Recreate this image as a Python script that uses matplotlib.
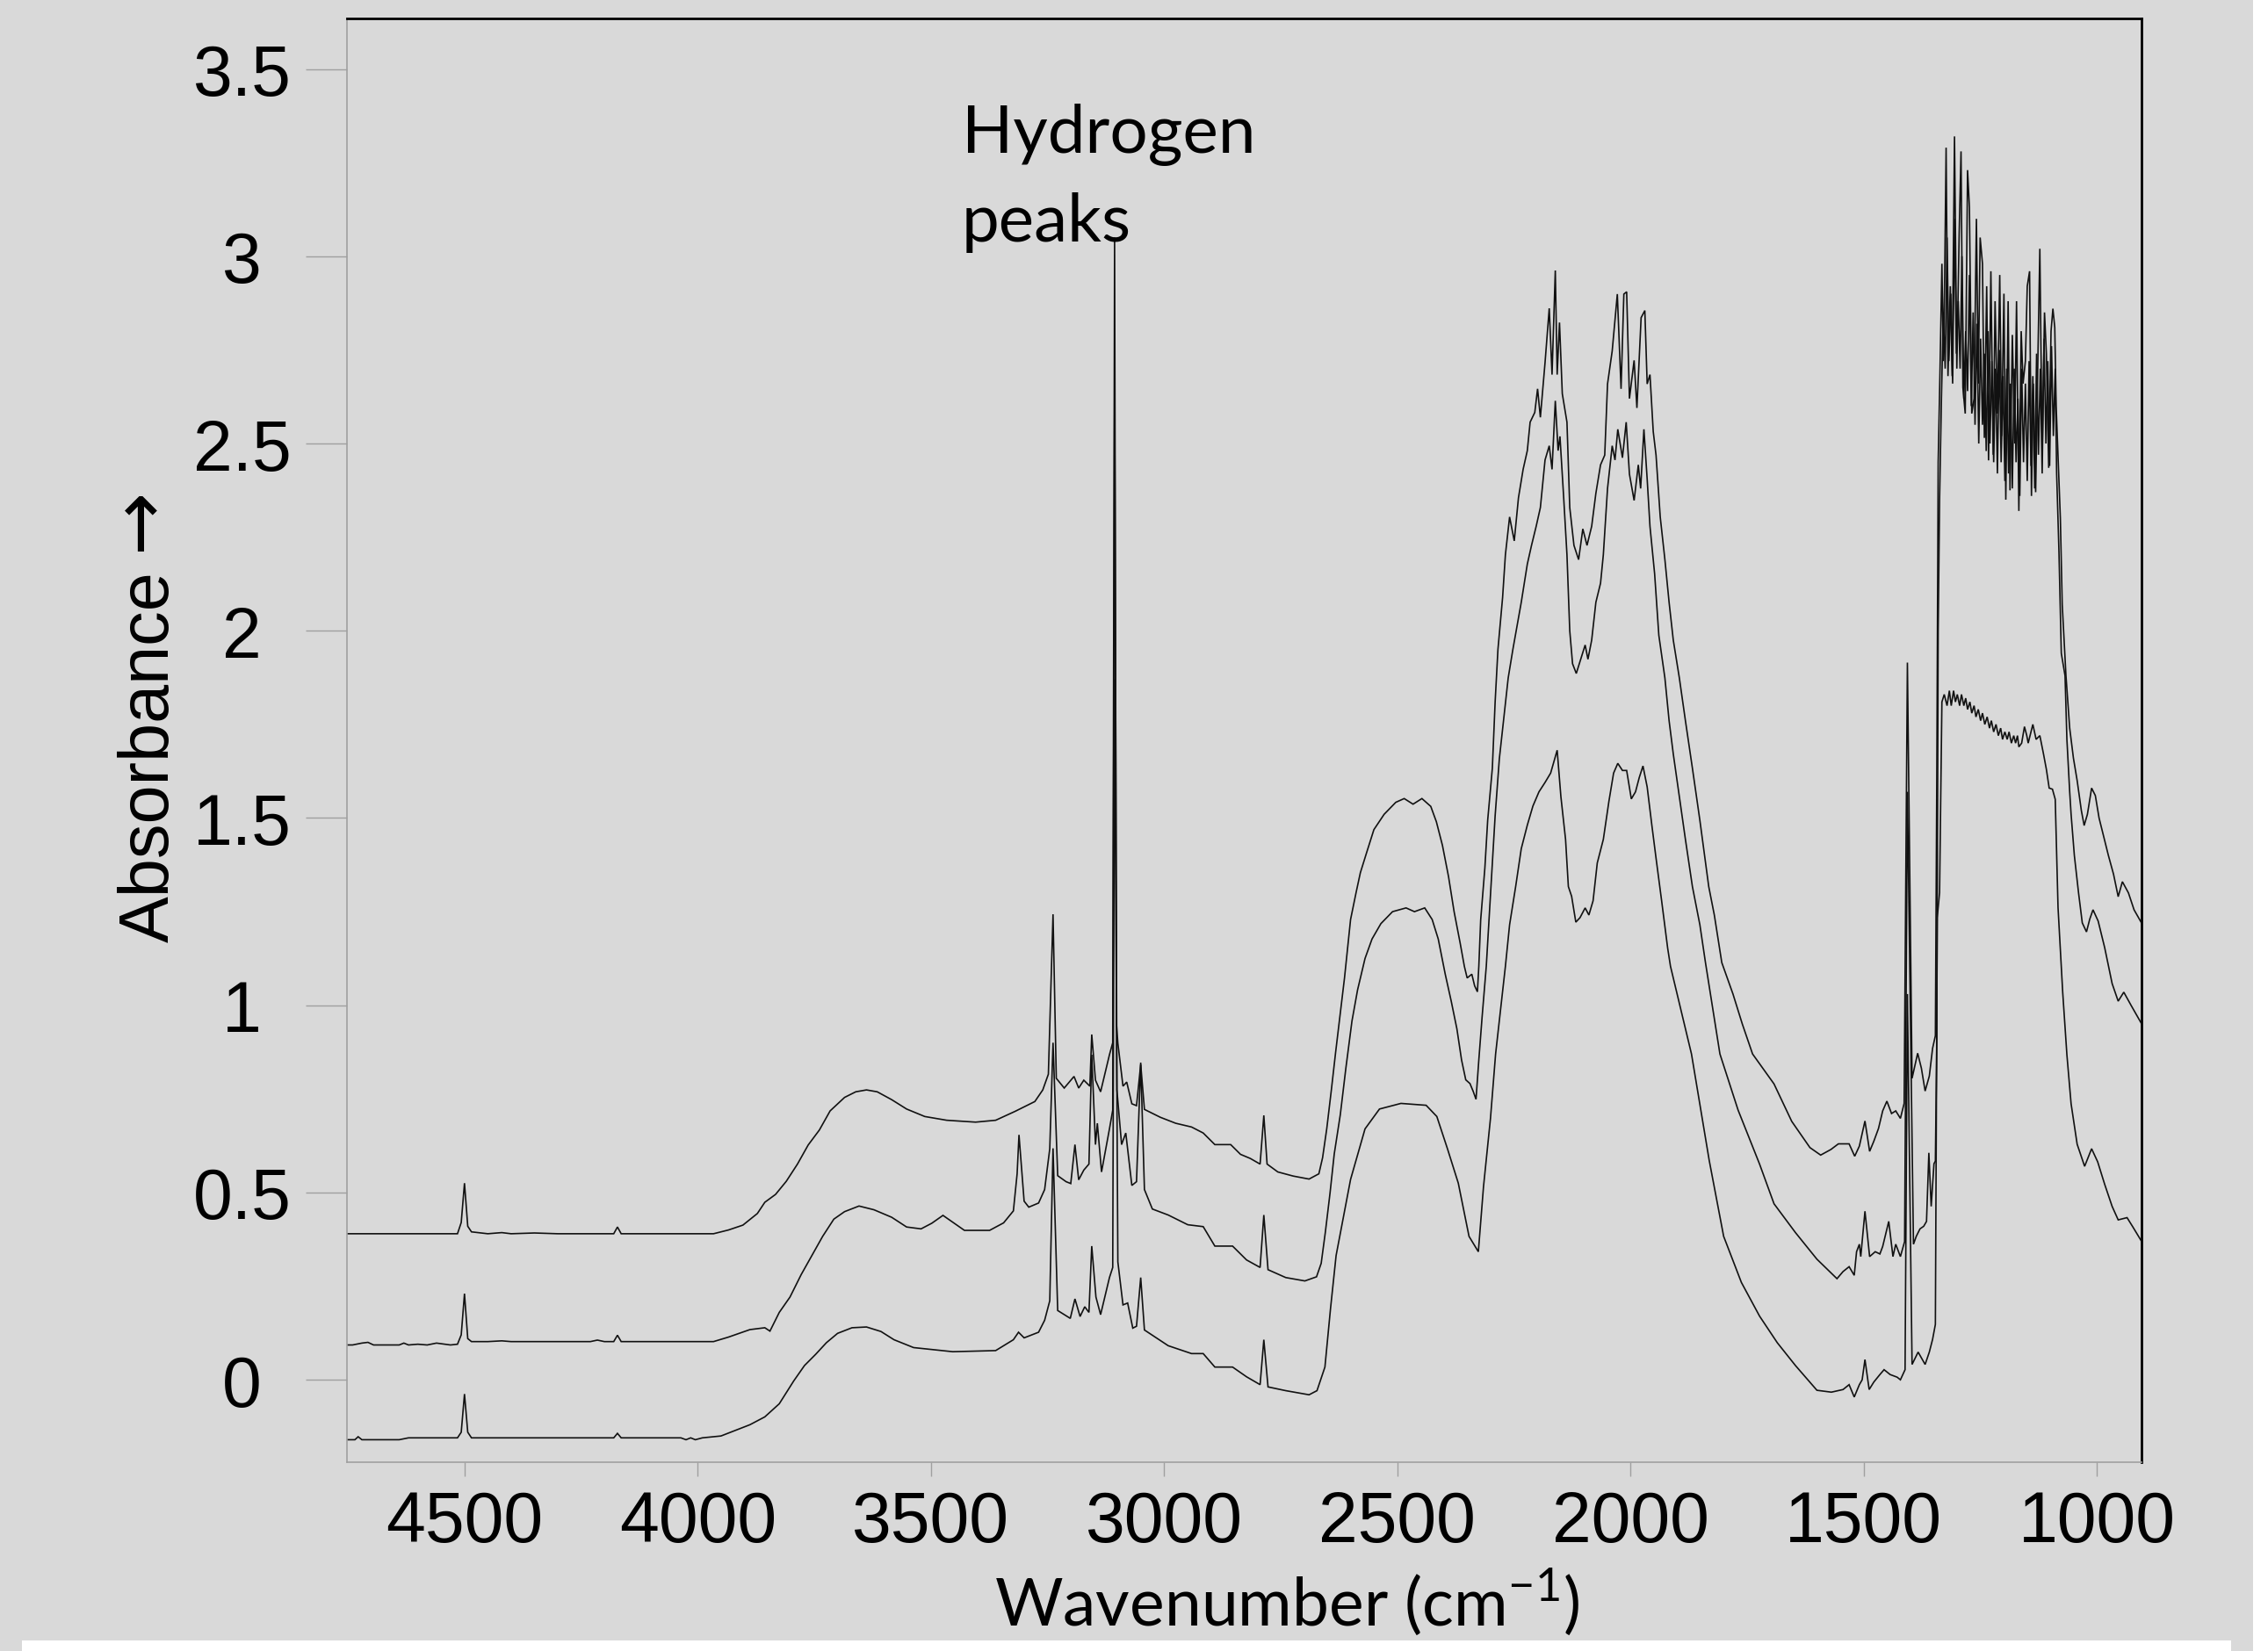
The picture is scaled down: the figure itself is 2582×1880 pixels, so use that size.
import matplotlib
matplotlib.use('Agg')
import matplotlib.pyplot as plt
from matplotlib.patches import Rectangle

W, H = 2582, 1881
DPI = 100
BG = '#d9d9d9'

plt.rcParams['mathtext.fontset'] = 'custom'
plt.rcParams['mathtext.rm'] = 'Lato'

# --- top spectrum ---
top_wn = [4752, 4700, 4650, 4600, 4560, 4515, 4507, 4500, 4493, 4485, 4450, 4420, 4400, 4350, 4300,
          4250, 4200, 4180, 4172, 4164, 4150, 4100, 4050, 4000, 3966, 3934, 3903, 3872, 3856, 3833,
          3810, 3786, 3763, 3739, 3716, 3685, 3661, 3638, 3615, 3584, 3552, 3513, 3466, 3404, 3361,
          3319, 3277, 3260, 3248, 3238, 3231, 3214, 3193, 3183, 3172, 3159, 3155, 3147, 3136, 3117,
          3110, 3106, 3102, 3099, 3088, 3080, 3069, 3059, 3050, 3042, 3008, 2975, 2941, 2916, 2891,
          2857, 2836, 2815, 2794, 2786, 2779, 2756, 2723, 2689, 2668, 2660, 2651, 2641, 2632, 2622,
          2613, 2600, 2588, 2579, 2566, 2550, 2528, 2503, 2485, 2466, 2447, 2428, 2416, 2403, 2390,
          2378, 2365, 2356, 2350, 2340, 2334, 2328, 2325, 2321, 2312, 2306, 2296, 2290, 2284, 2274,
          2268, 2259, 2249, 2240, 2230, 2221, 2215, 2205, 2199, 2193, 2183, 2174, 2168, 2161, 2157,
          2152, 2146, 2136, 2130, 2121, 2111, 2102, 2093, 2083, 2074, 2064, 2055, 2049, 2039, 2028,
          2020, 2014, 2008, 2002, 1992, 1986, 1977, 1969, 1964, 1958, 1951, 1945, 1936, 1926, 1917,
          1908, 1895, 1882, 1867, 1851, 1832, 1820, 1804, 1780, 1760, 1738, 1692, 1654, 1615, 1592,
          1570, 1554, 1544, 1531, 1519, 1509, 1497, 1487, 1478, 1468, 1459, 1450, 1440, 1431, 1421,
          1413, 1406, 1396, 1384, 1376, 1368, 1359, 1352, 1346, 1343, 1340, 1336, 1332, 1329, 1326,
          1323, 1319, 1314, 1310, 1305, 1300, 1295, 1291, 1287, 1282, 1277, 1273, 1268, 1263, 1258,
          1254, 1250, 1245, 1241, 1236, 1232, 1227, 1222, 1218, 1213, 1208, 1204, 1199, 1195, 1190,
          1186, 1181, 1176, 1172, 1167, 1162, 1158, 1153, 1149, 1144, 1140, 1136, 1131, 1126, 1122,
          1117, 1112, 1108, 1103, 1098, 1094, 1090, 1087, 1082, 1078, 1074, 1066, 1058, 1050, 1042,
          1033, 1027, 1020, 1011, 1003, 995, 985, 975, 964, 954, 945, 932, 920, 904]
top_abs = [0.39, 0.39, 0.39, 0.39, 0.39, 0.39, 0.42, 0.525, 0.41, 0.395, 0.39, 0.393, 0.39, 0.392, 0.39,
           0.39, 0.39, 0.39, 0.408, 0.39, 0.39, 0.39, 0.39, 0.39, 0.39, 0.40, 0.413, 0.444, 0.474, 0.495,
           0.53, 0.576, 0.627, 0.667, 0.718, 0.754, 0.769, 0.774, 0.769, 0.748, 0.723, 0.703, 0.693, 0.688, 0.693,
           0.717, 0.743, 0.774, 0.816, 1.243, 0.805, 0.779, 0.81, 0.779, 0.80, 0.784, 0.922, 0.80, 0.769, 0.868,
           0.90, 3.05, 0.95, 0.899, 0.784, 0.795, 0.737, 0.732, 0.842, 0.722, 0.701, 0.685, 0.675, 0.659, 0.628,
           0.628, 0.602, 0.591, 0.576, 0.706, 0.576, 0.555, 0.544, 0.536, 0.55, 0.593, 0.671, 0.776, 0.875, 0.979,
           1.073, 1.229, 1.302, 1.354, 1.406, 1.469, 1.51, 1.542, 1.552, 1.537, 1.552, 1.531, 1.49, 1.427, 1.344,
           1.25, 1.166, 1.104, 1.073, 1.083, 1.052, 1.036, 1.104, 1.228, 1.367, 1.494, 1.633, 1.81, 1.95, 2.089,
           2.203, 2.304, 2.24, 2.355, 2.431, 2.481, 2.557, 2.583, 2.646, 2.57, 2.716, 2.861, 2.684, 2.962, 2.684,
           2.823, 2.633, 2.557, 2.329, 2.228, 2.19, 2.272, 2.228, 2.279, 2.367, 2.443, 2.469, 2.659, 2.747, 2.899,
           2.646, 2.899, 2.905, 2.62, 2.722, 2.595, 2.836, 2.855, 2.659, 2.684, 2.532, 2.469, 2.304, 2.19, 2.076,
           1.975, 1.874, 1.76, 1.633, 1.494, 1.317, 1.241, 1.114, 1.03, 0.95, 0.87, 0.79, 0.69, 0.62, 0.60,
           0.615, 0.63, 0.63, 0.63, 0.597, 0.624, 0.691, 0.61, 0.637, 0.671, 0.718, 0.744, 0.711, 0.718, 0.698,
           0.738, 1.915, 0.805, 0.872, 0.832, 0.771, 0.811, 0.885, 0.919, 1.60, 2.45, 2.70, 2.98, 2.72, 2.95,
           3.29, 2.68, 2.92, 2.68, 3.32, 2.70, 3.06, 3.28, 2.65, 2.58, 3.23, 3.13, 2.58, 2.62, 3.10,
           2.66, 3.05, 2.98, 2.515, 2.92, 2.455, 2.96, 2.47, 2.88, 2.58, 2.95, 2.52, 2.90, 2.35, 2.88,
           2.375, 2.79, 2.50, 2.88, 2.32, 2.80, 2.66, 2.72, 2.92, 2.96, 2.36, 2.66, 2.37, 2.74, 3.02,
           2.47, 2.85, 2.74, 2.435, 2.80, 2.86, 2.81, 2.60, 2.43, 2.30, 2.07, 1.88, 1.74, 1.66, 1.60,
           1.52, 1.48, 1.51, 1.58, 1.56, 1.50, 1.45, 1.40, 1.35, 1.29, 1.33, 1.30, 1.255, 1.22]

# --- middle spectrum ---
mid_wn = [4752, 4740, 4720, 4707, 4695, 4640, 4630, 4620, 4600, 4580, 4560, 4530, 4515, 4507, 4500,
          4493, 4485, 4450, 4420, 4400, 4300, 4230, 4215, 4200, 4180, 4172, 4164, 4100, 4000, 3966,
          3934, 3888, 3856, 3845, 3825, 3802, 3778, 3755, 3732, 3708, 3685, 3654, 3622, 3584, 3552,
          3521, 3498, 3474, 3458, 3428, 3374, 3344, 3323, 3315, 3311, 3300, 3290, 3269, 3256, 3245,
          3238, 3228, 3210, 3200, 3191, 3183, 3172, 3161, 3155, 3147, 3143, 3134, 3117, 3110, 3106,
          3101, 3091, 3082, 3069, 3059, 3050, 3042, 3025, 2991, 2949, 2916, 2891, 2853, 2823, 2794,
          2786, 2777, 2739, 2698, 2673, 2663, 2654, 2644, 2635, 2622, 2610, 2597, 2585, 2569, 2554,
          2535, 2510, 2481, 2463, 2441, 2425, 2412, 2397, 2384, 2372, 2362, 2353, 2344, 2337, 2331,
          2325, 2318, 2309, 2299, 2290, 2281, 2271, 2262, 2252, 2243, 2234, 2221, 2212, 2202, 2193,
          2183, 2174, 2168, 2161, 2155, 2151, 2143, 2136, 2130, 2124, 2116, 2108, 2097, 2091, 2083,
          2074, 2064, 2058, 2049, 2039, 2033, 2027, 2017, 2009, 2002, 1992, 1983, 1978, 1971, 1964,
          1958, 1948, 1939, 1926, 1917, 1908, 1895, 1882, 1867, 1851, 1839, 1808, 1769, 1723, 1692,
          1646, 1600, 1557, 1544, 1531, 1520, 1515, 1509, 1506, 1497, 1487, 1475, 1465, 1459, 1446,
          1437, 1431, 1421, 1412, 1406, 1393, 1387, 1379, 1371, 1365, 1360, 1355, 1349, 1346, 1343,
          1340, 1337, 1333, 1329, 1325, 1321, 1317, 1313, 1309, 1305, 1301, 1297, 1293, 1289, 1285,
          1281, 1277, 1273, 1269, 1265, 1261, 1257, 1253, 1249, 1245, 1241, 1237, 1233, 1229, 1225,
          1221, 1217, 1213, 1209, 1205, 1201, 1197, 1193, 1189, 1185, 1181, 1177, 1173, 1169, 1165,
          1161, 1157, 1153, 1149, 1145, 1141, 1137, 1133, 1129, 1125, 1121, 1117, 1113, 1109, 1105,
          1101, 1097, 1093, 1089, 1086, 1081, 1076, 1068, 1064, 1058, 1055, 1048, 1039, 1031, 1022,
          1015, 1008, 997, 983, 967, 954, 942, 926, 904]
mid_abs = [0.093, 0.093, 0.098, 0.10, 0.093, 0.093, 0.098, 0.093, 0.095, 0.093, 0.098, 0.093, 0.095, 0.12, 0.23,
           0.11, 0.102, 0.102, 0.104, 0.102, 0.102, 0.102, 0.106, 0.102, 0.102, 0.119, 0.102, 0.102, 0.102, 0.102,
           0.114, 0.134, 0.139, 0.13, 0.18, 0.221, 0.281, 0.332, 0.383, 0.429, 0.449, 0.464, 0.454, 0.434, 0.408,
           0.403, 0.418, 0.439, 0.425, 0.399, 0.399, 0.419, 0.451, 0.55, 0.654, 0.477, 0.461, 0.472, 0.508, 0.617,
           0.90, 0.545, 0.529, 0.524, 0.628, 0.534, 0.56, 0.576, 0.868, 0.628, 0.685, 0.555, 0.67, 0.72, 2.66,
           0.774, 0.628, 0.659, 0.519, 0.529, 0.847, 0.508, 0.456, 0.44, 0.414, 0.409, 0.357, 0.357, 0.32, 0.30,
           0.44, 0.294, 0.273, 0.264, 0.275, 0.311, 0.395, 0.499, 0.603, 0.708, 0.833, 0.958, 1.041, 1.125, 1.177,
           1.218, 1.25, 1.26, 1.25, 1.26, 1.229, 1.177, 1.083, 1.01, 0.937, 0.854, 0.801, 0.791, 0.77, 0.749,
           0.854, 0.968, 1.104, 1.317, 1.506, 1.658, 1.772, 1.874, 1.95, 2.013, 2.076, 2.178, 2.228, 2.279, 2.329,
           2.456, 2.494, 2.431, 2.614, 2.481, 2.519, 2.355, 2.203, 2.0, 1.912, 1.886, 1.918, 1.962, 1.924, 1.975,
           2.076, 2.127, 2.203, 2.38, 2.494, 2.456, 2.538, 2.462, 2.557, 2.418, 2.348, 2.443, 2.38, 2.538, 2.405,
           2.279, 2.152, 1.988, 1.874, 1.76, 1.671, 1.557, 1.443, 1.317, 1.215, 1.114, 0.87, 0.72, 0.576, 0.47,
           0.393, 0.322, 0.27, 0.289, 0.302, 0.279, 0.342, 0.362, 0.329, 0.45, 0.329, 0.342, 0.336, 0.356, 0.423,
           0.329, 0.362, 0.329, 0.369, 1.57, 0.362, 0.383, 0.403, 0.41, 0.423, 0.606, 0.463, 0.577, 0.584, 0.90,
           2.0, 2.35, 2.62, 2.85, 2.70, 3.05, 2.72, 2.90, 2.66, 3.10, 2.74, 2.88, 2.70, 3.00, 2.62,
           2.80, 2.64, 2.95, 2.60, 2.85, 2.55, 2.82, 2.50, 2.78, 2.55, 2.74, 2.48, 2.80, 2.50, 2.72,
           2.45, 2.70, 2.42, 2.75, 2.45, 2.68, 2.40, 2.70, 2.42, 2.66, 2.38, 2.70, 2.45, 2.62, 2.36,
           2.70, 2.45, 2.66, 2.40, 2.72, 2.44, 2.68, 2.38, 2.74, 2.47, 2.70, 2.42, 2.78, 2.50, 2.72,
           2.44, 2.76, 2.52, 2.70, 2.42, 2.21, 1.94, 1.88, 1.71, 1.57, 1.51, 1.40, 1.30, 1.22, 1.196,
           1.23, 1.255, 1.225, 1.154, 1.058, 1.011, 1.035, 0.999, 0.951]

# --- bottom spectrum ---
bot_wn = [4752, 4735, 4728, 4720, 4640, 4620, 4515, 4507, 4500, 4493, 4485, 4400, 4300, 4180, 4172,
          4164, 4100, 4036, 4025, 4015, 4005, 3990, 3950, 3919, 3888, 3856, 3825, 3794, 3771, 3747,
          3724, 3700, 3669, 3638, 3607, 3579, 3537, 3453, 3361, 3323, 3312, 3300, 3269, 3256, 3245,
          3238, 3228, 3201, 3191, 3180, 3170, 3161, 3155, 3146, 3136, 3117, 3110, 3106, 3099, 3088,
          3078, 3067, 3059, 3050, 3042, 2991, 2941, 2916, 2891, 2853, 2823, 2794, 2786, 2777, 2739,
          2689, 2672, 2655, 2643, 2631, 2600, 2569, 2538, 2492, 2438, 2415, 2392, 2369, 2346, 2326,
          2315, 2300, 2289, 2268, 2259, 2246, 2234, 2221, 2209, 2196, 2183, 2171, 2165, 2157, 2149,
          2139, 2133, 2126, 2117, 2108, 2097, 2089, 2080, 2071, 2058, 2046, 2036, 2027, 2017, 2008,
          1998, 1989, 1981, 1973, 1964, 1954, 1945, 1933, 1920, 1914, 1869, 1831, 1800, 1762, 1723,
          1685, 1646, 1600, 1569, 1544, 1531, 1520, 1509, 1503, 1497, 1488, 1478, 1465, 1456, 1443,
          1428, 1421, 1411, 1406, 1396, 1383, 1368, 1359, 1352, 1346, 1342, 1337, 1332, 1327, 1321,
          1316, 1312, 1307, 1303, 1299, 1294, 1290, 1285, 1281, 1277, 1272, 1268, 1263, 1259, 1254,
          1249, 1245, 1240, 1235, 1230, 1226, 1221, 1216, 1211, 1206, 1202, 1197, 1192, 1188, 1183,
          1178, 1174, 1170, 1167, 1161, 1155, 1150, 1147, 1137, 1130, 1122, 1114, 1108, 1102, 1095,
          1089, 1083, 1073, 1064, 1055, 1042, 1026, 1011, 998, 983, 967, 954, 935, 923, 904]
bot_abs = [-0.16, -0.16, -0.152, -0.16, -0.16, -0.155, -0.155, -0.14, -0.038, -0.14, -0.155, -0.155, -0.155, -0.155, -0.143,
           -0.155, -0.155, -0.155, -0.16, -0.155, -0.16, -0.155, -0.15, -0.135, -0.12, -0.099, -0.064, -0.003, 0.038, 0.068,
           0.099, 0.124, 0.139, 0.141, 0.129, 0.107, 0.086, 0.075, 0.078, 0.107, 0.127, 0.112, 0.127, 0.159, 0.211,
           0.618, 0.185, 0.164, 0.216, 0.169, 0.195, 0.18, 0.357, 0.221, 0.174, 0.273, 0.30, 1.87, 0.315, 0.20,
           0.205, 0.138, 0.143, 0.273, 0.133, 0.091, 0.07, 0.07, 0.034, 0.034, 0.008, -0.013, 0.107, -0.019, -0.029,
           -0.04, -0.029, 0.034, 0.19, 0.332, 0.535, 0.67, 0.723, 0.738, 0.733, 0.703, 0.616, 0.525, 0.383, 0.342,
           0.515, 0.698, 0.87, 1.104, 1.215, 1.317, 1.418, 1.481, 1.532, 1.57, 1.595, 1.62, 1.646, 1.681, 1.557,
           1.443, 1.317, 1.291, 1.222, 1.234, 1.26, 1.241, 1.279, 1.38, 1.443, 1.545, 1.62, 1.646, 1.627, 1.627,
           1.551, 1.57, 1.608, 1.639, 1.583, 1.481, 1.393, 1.279, 1.152, 1.104, 0.87, 0.586, 0.383, 0.26, 0.17,
           0.099, 0.038, -0.028, -0.033, -0.026, -0.013, -0.046, -0.013, 0.0, 0.054, -0.026, -0.006, 0.014, 0.027, 0.014,
           0.007, 0.0, 0.027, 1.03, 0.041, 0.074, 0.041, 0.074, 0.108, 0.148, 1.234, 1.301, 1.81, 1.83, 1.80,
           1.84, 1.80, 1.84, 1.81, 1.83, 1.80, 1.83, 1.80, 1.82, 1.79, 1.81, 1.78, 1.80, 1.77, 1.79,
           1.76, 1.78, 1.75, 1.77, 1.74, 1.76, 1.73, 1.75, 1.72, 1.74, 1.71, 1.73, 1.71, 1.73, 1.70,
           1.72, 1.70, 1.72, 1.69, 1.70, 1.744, 1.72, 1.70, 1.75, 1.71, 1.72, 1.67, 1.63, 1.58, 1.577,
           1.55, 1.261, 1.035, 0.868, 0.737, 0.629, 0.57, 0.617, 0.582, 0.522, 0.463, 0.427, 0.433, 0.409, 0.37]

x_ticks = [4500, 4000, 3500, 3000, 2500, 2000, 1500, 1000]
y_ticks = [0, 0.5, 1, 1.5, 2, 2.5, 3, 3.5]
y_tick_labels = ['0', '0.5', '1', '1.5', '2', '2.5', '3', '3.5']

fig = plt.figure(figsize=(W / DPI, H / DPI), dpi=DPI, facecolor=BG)
ax = fig.add_axes([395 / W, 1 - 1666 / H, (2438 - 395) / W, (1666 - 22) / H])
ax.set_facecolor(BG)

for wn, ab in ((top_wn, top_abs), (mid_wn, mid_abs), (bot_wn, bot_abs)):
    ax.plot(wn, ab, color='#111111', lw=1.2, solid_joinstyle='miter')

ax.set_xlim(4752, 904)
ax.set_ylim(-0.22, 3.635)

for side in ('left', 'bottom'):
    ax.spines[side].set_color('#a0a0a0')
    ax.spines[side].set_linewidth(1.2)
for side in ('top', 'right'):
    ax.spines[side].set_color('black')
    ax.spines[side].set_linewidth(2.0)

ax.set_xticks(x_ticks)
ax.set_xticklabels([str(t) for t in x_ticks], fontsize=58, family='Liberation Sans')
ax.set_yticks(y_ticks)
ax.set_yticklabels(y_tick_labels, fontsize=58, family='Liberation Sans')
ax.tick_params(axis='x', direction='out', length=11.5, width=1.0, color='#a0a0a0', pad=11)
ax.tick_params(axis='y', direction='out', length=34, width=1.0, color='#a0a0a0', pad=52)
for lab in ax.get_yticklabels():
    lab.set_horizontalalignment('center')

# y label: word and arrow drawn separately so the arrow keeps a full size
fig.text(192 / W, 1 - 862 / H, 'Absorbance', rotation=90, rotation_mode='anchor',
         ha='center', va='baseline', fontsize=57, family='Liberation Sans')
fig.text(160 / W, 1 - 592 / H, '\u2192', rotation=90, rotation_mode='anchor',
         ha='center', va='center', fontsize=62, family='DejaVu Sans')

fig.text(1465 / W, 1 - 1852 / H, 'Wavenumber (cm$^{\\mathrm{-1}}$)', ha='center', va='baseline',
         fontsize=54, family='Lato')

fig.text(1095 / W, 1 - 174 / H, 'Hydrogen', ha='left', va='baseline', fontsize=55, family='Lato')
fig.text(1095 / W, 1 - 275 / H, 'peaks', ha='left', va='baseline', fontsize=55, family='Lato')

# white strips along the bottom and right edges of the original image
fig.patches.append(Rectangle((25 / W, 0), (2540 - 25) / W, 12 / H, transform=fig.transFigure,
                             facecolor='white', edgecolor='none'))
fig.patches.append(Rectangle((2565 / W, 0), 17 / W, 1, transform=fig.transFigure,
                             facecolor='white', edgecolor='none'))

fig.savefig('out.png', dpi=DPI, facecolor=BG)
